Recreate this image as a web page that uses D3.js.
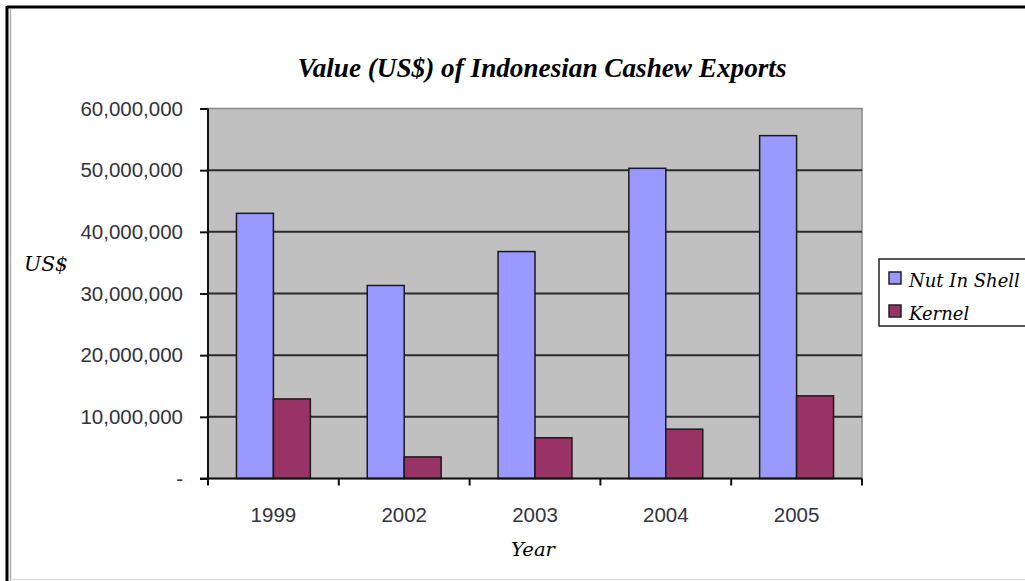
<!DOCTYPE html>
<html>
<head>
<meta charset="utf-8">
<script src="https://cdn.jsdelivr.net/npm/d3@7"></script>
<style>
  html, body { margin: 0; padding: 0; background: #fff; }
  svg { display: block; }
</style>
</head>
<body>
<svg id="chart" width="1025" height="581"></svg>
<script>
// Export values of Indonesian cashew, US$
const years = ["1999", "2002", "2003", "2004", "2005"];
const nutInShell = [43000000, 31300000, 36800000, 50300000, 55600000];
const kernel = [12900000, 3500000, 6600000, 8000000, 13400000];
const seriesNames = ["Nut In Shell", "Kernel"];
const seriesColors = ["#9999ff", "#993366"];
const yTicks = [0, 10000000, 20000000, 30000000, 40000000, 50000000, 60000000];

const svg = d3.select("#chart");
const plot = { left: 208, right: 862, top: 108.5, bottom: 478.5 };

// Outer frame
svg.append("line").attr("x1", 7).attr("x2", 1025).attr("y1", 7).attr("y2", 7)
  .attr("stroke", "#000").attr("stroke-width", 3);
svg.append("line").attr("x1", 7).attr("x2", 7).attr("y1", 6).attr("y2", 581)
  .attr("stroke", "#000").attr("stroke-width", 3);
svg.append("line").attr("x1", 10.5).attr("x2", 10.5).attr("y1", 9).attr("y2", 581)
  .attr("stroke", "#b0b0b0").attr("stroke-width", 1.5);
svg.append("line").attr("x1", 10).attr("x2", 1025).attr("y1", 579.5).attr("y2", 579.5)
  .attr("stroke", "#d8d8d8").attr("stroke-width", 1);

const x = d3.scaleBand().domain(years).range([plot.left, plot.right]);
const y = d3.scaleLinear().domain([0, 60000000]).range([plot.bottom, plot.top]);
const inner = d3.scaleBand().domain(seriesNames)
  .range([0, x.bandwidth()]).paddingOuter(0.77).paddingInner(0);

// Plot area
svg.append("rect")
  .attr("x", plot.left).attr("y", plot.top)
  .attr("width", plot.right - plot.left).attr("height", plot.bottom - plot.top)
  .attr("fill", "#c0c0c0").attr("stroke", "#8a8a8a").attr("stroke-width", 1.5);

// Gridlines
svg.append("g").selectAll("line")
  .data(yTicks.filter(d => d > 0 && d < 60000000))
  .join("line")
  .attr("x1", plot.left).attr("x2", plot.right)
  .attr("y1", d => y(d)).attr("y2", d => y(d))
  .attr("stroke", "#2a2a2a").attr("stroke-width", 2);

// Bars
const groups = svg.append("g").selectAll("g")
  .data(years.map((yr, i) => ({ yr, vals: [nutInShell[i], kernel[i]] })))
  .join("g")
  .attr("transform", d => `translate(${x(d.yr)},0)`);

groups.selectAll("rect")
  .data(d => d.vals.map((v, j) => ({ v, name: seriesNames[j], color: seriesColors[j] })))
  .join("rect")
  .attr("x", d => inner(d.name))
  .attr("width", inner.bandwidth())
  .attr("y", d => y(d.v))
  .attr("height", d => y(0) - y(d.v))
  .attr("fill", d => d.color)
  .attr("stroke", "#1a1a1a").attr("stroke-width", 1.5);

// Y axis
const yAxis = d3.axisLeft(y)
  .tickValues(yTicks)
  .tickSize(8)
  .tickPadding(17)
  .tickFormat(d => d === 0 ? "-" : d3.format(",")(d));
const gy = svg.append("g").attr("transform", `translate(${plot.left},0)`).call(yAxis);
gy.select(".domain").attr("stroke", "#111").attr("stroke-width", 2)
  .attr("d", `M0,${plot.top}V${plot.bottom + 6}`);
gy.selectAll(".tick line").attr("stroke", "#111").attr("stroke-width", 2);
gy.selectAll(".tick text")
  .attr("font-family", "'Liberation Sans', Arial, sans-serif")
  .attr("font-size", 20.5).attr("fill", "#333340");

// X axis
const gx = svg.append("g").attr("transform", `translate(0,${plot.bottom})`);
gx.append("line").attr("x1", plot.left - 8).attr("x2", plot.right)
  .attr("y1", 0).attr("y2", 0).attr("stroke", "#111").attr("stroke-width", 2);
const boundaries = years.map(d => x(d)).concat([plot.right]);
gx.selectAll("line.tk").data(boundaries).join("line").attr("class", "tk")
  .attr("x1", d => d).attr("x2", d => d).attr("y1", 0).attr("y2", 7)
  .attr("stroke", "#111").attr("stroke-width", 2);
gx.selectAll("text").data(years).join("text")
  .attr("x", d => x(d) + x.bandwidth() / 2).attr("y", 43)
  .attr("text-anchor", "middle")
  .attr("font-family", "'Liberation Sans', Arial, sans-serif")
  .attr("font-size", 20.5).attr("fill", "#333340")
  .text(d => d);

// Title and axis titles
svg.append("text")
  .attr("x", 542).attr("y", 77)
  .attr("text-anchor", "middle")
  .attr("font-family", "'Liberation Serif', 'Times New Roman', serif")
  .attr("font-style", "italic").attr("font-weight", "bold")
  .attr("font-size", 27)
  .attr("textLength", 489).attr("lengthAdjust", "spacingAndGlyphs")
  .text("Value (US$) of Indonesian Cashew Exports");

svg.append("text")
  .attr("x", 24).attr("y", 271)
  .attr("font-family", "'DejaVu Serif', serif")
  .attr("font-style", "italic")
  .attr("font-size", 20)
  .attr("textLength", 44).attr("lengthAdjust", "spacingAndGlyphs")
  .text("US$");

svg.append("text")
  .attr("x", 511).attr("y", 556)
  .attr("font-family", "'DejaVu Serif', serif")
  .attr("font-style", "italic")
  .attr("font-size", 19)
  .attr("textLength", 44).attr("lengthAdjust", "spacingAndGlyphs")
  .text("Year");

// Legend
const lg = svg.append("g");
lg.append("rect").attr("x", 879).attr("y", 259).attr("width", 160).attr("height", 67)
  .attr("fill", "#fff").attr("stroke", "#222").attr("stroke-width", 1.5);
const items = lg.selectAll("g.item").data(seriesNames).join("g").attr("class", "item")
  .attr("transform", (d, i) => `translate(0,${i * 33})`);
items.append("rect").attr("x", 889).attr("y", 272).attr("width", 12).attr("height", 12)
  .attr("fill", (d, i) => seriesColors[i]).attr("stroke", "#222").attr("stroke-width", 1.5);
items.append("text").attr("x", 909).attr("y", 287)
  .attr("font-family", "'DejaVu Serif', serif")
  .attr("font-style", "italic")
  .attr("font-size", 18)
  .text(d => d);
</script>
</body>
</html>
